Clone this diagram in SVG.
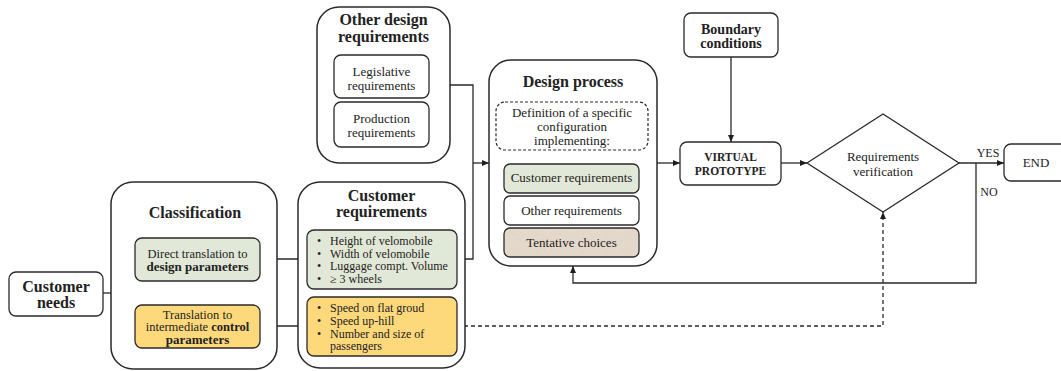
<svg xmlns="http://www.w3.org/2000/svg" width="1061" height="371" viewBox="0 0 1061 371">
  <style>
    text { font-family: "Liberation Serif", "Times New Roman", serif; fill: #222; text-anchor: middle; }
    .t { font-size: 16px; font-weight: bold; }
    .b { font-size: 13px; }
    .bb { font-size: 13px; font-weight: bold; }
    .s { font-size: 12px; text-anchor: start; }
    .box { fill: #fff; stroke: #2a2a2a; stroke-width: 1.3; }
    .cont { fill: #fff; stroke: #2a2a2a; stroke-width: 1.5; }
    .green { fill: #e2e8d7; stroke: #2a2a2a; stroke-width: 1.3; }
    .yellow { fill: #fed97b; stroke: #2a2a2a; stroke-width: 1.3; }
    .tan { fill: url(#grain); stroke: #2a2a2a; stroke-width: 1.3; }
    .dash { fill: #fff; stroke: #2a2a2a; stroke-width: 1.2; stroke-dasharray: 3 2; }
    .ln { fill: none; stroke: #2a2a2a; stroke-width: 1.3; }
    .arr { marker-end: url(#head); }
    .dl { stroke-dasharray: 4 3; }
  </style>
  <defs>
    <marker id="head" markerUnits="userSpaceOnUse" markerWidth="8" markerHeight="8" refX="7" refY="4" orient="auto">
      <path d="M0,1 L7,4 L0,7 Z" fill="#1e1e1e"/>
    </marker>
    <!-- speckled paper fill for the tentative-choices box -->
    <pattern id="grain" patternUnits="userSpaceOnUse" width="23" height="17">
      <rect width="23" height="17" fill="#e3d8ca"/>
      <circle cx="3" cy="4" r="0.6" fill="#f4efe6"/>
      <circle cx="14" cy="2" r="0.5" fill="#cdbfae"/>
      <circle cx="19" cy="11" r="0.6" fill="#f4efe6"/>
      <circle cx="8" cy="13" r="0.5" fill="#cdbfae"/>
      <circle cx="11" cy="8" r="0.4" fill="#d5c8b8"/>
    </pattern>
  </defs>

  <!-- connectors -->
  <g id="connectors">
    <path class="ln" d="M103,293 H120"/>
    <path class="ln" d="M120,259 V326"/>
    <path class="ln arr" d="M120,259 H135"/>
    <path class="ln arr" d="M120,326 H135"/>
    <path class="ln arr" d="M260,259 H307"/>
    <path class="ln arr" d="M260,326 H307"/>
    <path class="ln" d="M450,85 H473 V259 H457"/>
    <path class="ln arr" d="M473,163 H489"/>
    <path class="ln dl arr" d="M457,326 H883 V212"/>
    <path class="ln arr" d="M657,163 H680"/>
    <path class="ln arr" d="M731,57 V142"/>
    <path class="ln arr" d="M781,163 H807"/>
    <path class="ln arr" d="M959,163 H1004"/>
    <path class="ln arr" d="M976,163 V283 H573 V266"/>
    <text class="b" x="988" y="157" style="font-size:12px">YES</text>
    <text class="b" x="989" y="196" style="font-size:12px">NO</text>
  </g>

  <g id="customer-needs">
    <rect class="box" x="9" y="272" width="94" height="44" rx="7"/>
    <text class="t" x="56" y="292">Customer</text>
    <text class="t" x="56" y="308">needs</text>
  </g>

  <g id="classification">
    <rect class="cont" x="111" y="182" width="166" height="187" rx="22"/>
    <text class="t" x="195" y="218">Classification</text>
    <g id="direct-translation">
      <rect class="green" x="135" y="238" width="125" height="43" rx="7"/>
      <text class="b" x="197.5" y="258" style="font-size:12.5px">Direct translation to</text>
      <text class="bb" x="197.5" y="271">design parameters</text>
    </g>
    <g id="intermediate-translation">
      <rect class="yellow" x="135" y="305" width="125" height="43" rx="7"/>
      <text class="b" x="197.5" y="319" style="font-size:12.5px">Translation to</text>
      <text class="b" x="197.5" y="331" style="font-size:12.5px">intermediate <tspan font-weight="bold">control</tspan></text>
      <text class="bb" x="197.5" y="344">parameters</text>
    </g>
  </g>

  <g id="customer-requirements">
    <rect class="cont" x="298" y="182" width="167" height="186" rx="22"/>
    <text class="t" x="381.5" y="201">Customer</text>
    <text class="t" x="381.5" y="217">requirements</text>
    <g id="design-parameter-list">
      <rect class="green" x="307" y="230" width="150" height="59" rx="7"/>
      <text class="s" x="317" y="245">•</text><text class="s" x="330" y="245">Height of velomobile</text>
      <text class="s" x="317" y="257.5">•</text><text class="s" x="330" y="257.5">Width of velomobile</text>
      <text class="s" x="317" y="270">•</text><text class="s" x="330" y="270">Luggage compt. Volume</text>
      <text class="s" x="317" y="282.5">•</text><text class="s" x="330" y="282.5">≥ 3 wheels</text>
    </g>
    <g id="control-parameter-list">
      <rect class="yellow" x="307" y="297" width="150" height="59" rx="7"/>
      <text class="s" x="317" y="312">•</text><text class="s" x="330" y="312">Speed on flat groud</text>
      <text class="s" x="317" y="325">•</text><text class="s" x="330" y="325">Speed up-hill</text>
      <text class="s" x="317" y="337.5">•</text><text class="s" x="330" y="337.5">Number and size of</text>
      <text class="s" x="330" y="350">passengers</text>
    </g>
  </g>

  <g id="other-design-requirements">
    <rect class="cont" x="317" y="7" width="133" height="156" rx="22"/>
    <text class="t" x="383.5" y="25">Other design</text>
    <text class="t" x="383.5" y="42">requirements</text>
    <g id="legislative">
      <rect class="box" x="334" y="55" width="95" height="43" rx="7"/>
      <text class="b" x="381.5" y="76">Legislative</text>
      <text class="b" x="381.5" y="90">requirements</text>
    </g>
    <g id="production">
      <rect class="box" x="334" y="102" width="95" height="45" rx="7"/>
      <text class="b" x="381.5" y="123">Production</text>
      <text class="b" x="381.5" y="137">requirements</text>
    </g>
  </g>

  <g id="design-process">
    <rect class="cont" x="489" y="60" width="168" height="206" rx="22"/>
    <text class="t" x="573" y="87">Design process</text>
    <g id="configuration">
      <rect class="dash" x="496" y="102" width="152" height="48" rx="9"/>
      <text class="b" x="572" y="117">Definition of a specific</text>
      <text class="b" x="572" y="131">configuration</text>
      <text class="b" x="572" y="145">implementing:</text>
    </g>
    <g id="dp-customer">
      <rect class="green" x="504" y="164" width="135" height="29" rx="6"/>
      <text class="b" x="571.5" y="182">Customer requirements</text>
    </g>
    <g id="dp-other">
      <rect class="box" x="504" y="196" width="135" height="29" rx="6"/>
      <text class="b" x="571.5" y="215">Other requirements</text>
    </g>
    <g id="dp-tentative">
      <rect class="tan" x="504" y="228" width="135" height="29" rx="6"/>
      <text class="b" x="571.5" y="247">Tentative choices</text>
    </g>
  </g>

  <g id="boundary-conditions">
    <rect class="box" x="684" y="13" width="94" height="44" rx="7"/>
    <text class="bb" x="731" y="34" style="font-size:14px">Boundary</text>
    <text class="bb" x="731" y="48" style="font-size:14px">conditions</text>
  </g>

  <g id="virtual-prototype">
    <rect class="box" x="680" y="142" width="101" height="43" rx="7"/>
    <text class="bb" x="730.5" y="161" style="font-size:11.5px">VIRTUAL</text>
    <text class="bb" x="730.5" y="175" style="font-size:11.5px">PROTOTYPE</text>
  </g>

  <g id="requirements-verification">
    <polygon class="box" points="807,163 883,114 959,163 883,212"/>
    <text class="b" x="883" y="161">Requirements</text>
    <text class="b" x="883" y="176">verification</text>
  </g>

  <g id="end">
    <rect class="box" x="1004" y="144" width="72" height="37" rx="7"/>
    <text class="b" x="1036" y="167">END</text>
  </g>
</svg>
